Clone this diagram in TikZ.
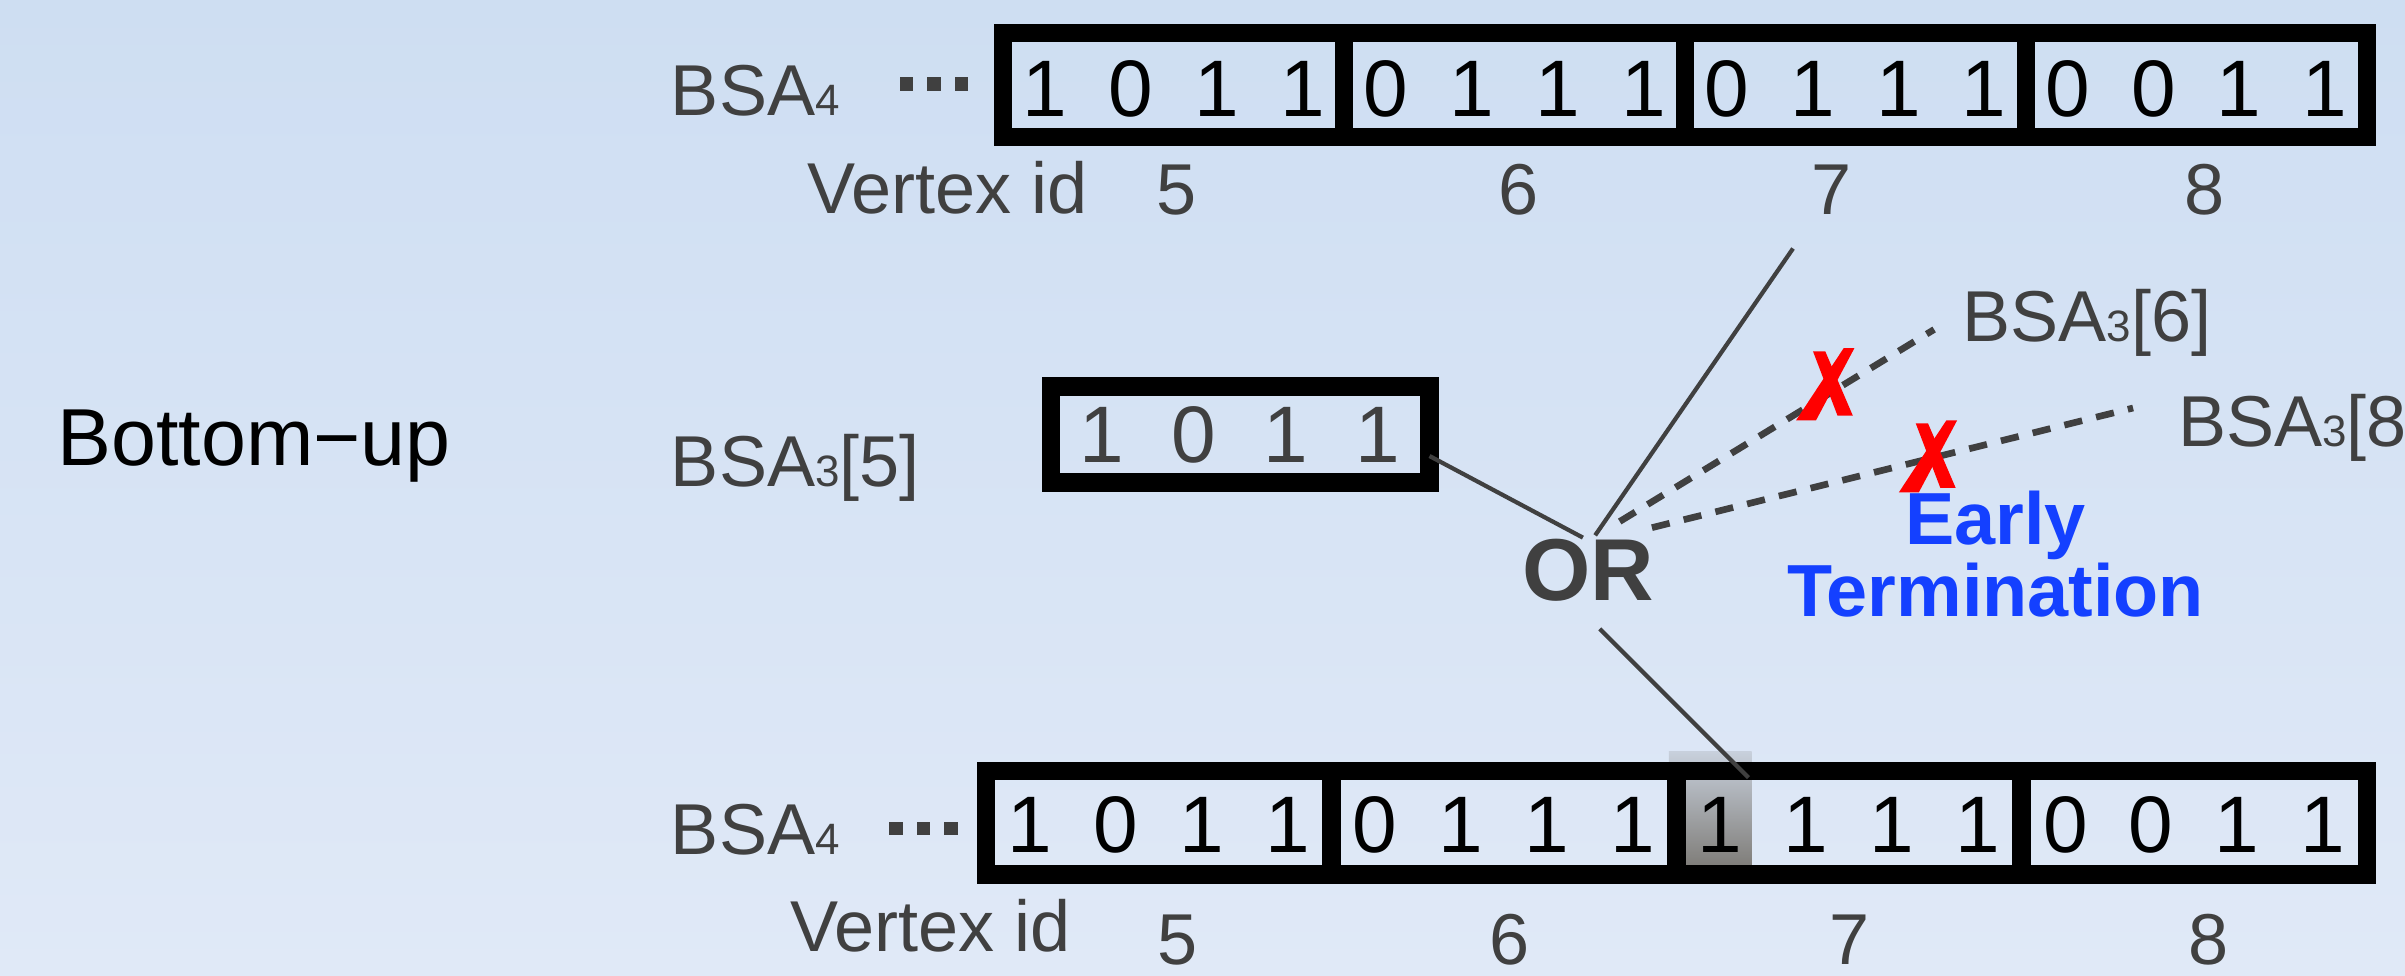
\documentclass[tikz,border=0pt]{standalone}
\usepackage{fontspec}
\setmainfont{Liberation Sans}
\usetikzlibrary{calc}
\definecolor{bgtop}{RGB}{206,222,242}
\definecolor{bgbot}{RGB}{224,233,247}
\definecolor{txtgray}{RGB}{64,64,64}
\definecolor{etblue}{RGB}{20,64,255}
\definecolor{hltop}{RGB}{200,208,220}
\definecolor{hlbot}{RGB}{128,126,122}
\newcommand{\bsasub}[1]{{\fontsize{12.5}{14}\selectfont #1}}
\tikzset{
  xmark/.pic={
    \fill[red] (-8,-22) -- (0,-22) -- (18,20) -- (8,20) -- cycle;
    \fill[red] (12,-24) -- (19,-24) -- (-6,23) -- (-19,23) -- cycle;
  },
}

\begin{document}
\begin{tikzpicture}[x=0.015338cm, y=-0.015338cm,
  lbl/.style={font=\fontsize{20.5}{24}\selectfont, text=txtgray, inner sep=0pt},
  cell/.style={draw=black, line width=5.2pt, outer sep=0pt, inner sep=0pt,
               minimum width=3.409cm, minimum height=1.035cm},
  bit/.style={font=\fontsize{22.8}{26}\selectfont, inner sep=0pt},
  dotsq/.style={fill=txtgray, minimum size=0.135cm, inner sep=0pt},
  wire/.style={draw=txtgray, line width=1.2pt},
  cutwire/.style={draw=txtgray, line width=1.9pt, dash pattern=on 5.2pt off 4.1pt},
]
\useasboundingbox (0,0) rectangle (1568,636);
\clip (0,0) rectangle (1568,636);
\fill[top color=bgtop, bottom color=bgbot] (0,0) rectangle (1568,636);

% mode
\node[font=\fontsize{23}{27}\selectfont, inner sep=0pt, anchor=base west] (mode) at (37,303.5) {Bottom−up};

% BSA4 (top)
\node[lbl, anchor=base west] (bsa4t) at (437,75) {BSA\bsasub{4}};
\foreach \x [count=\k] in {591,609,627}
  \node[dotsq] (dt\k) at (\x,54.6) {};
\foreach \b [count=\i] in {{1,0,1,1},{0,1,1,1},{0,1,1,1},{0,0,1,1}} {
  \node[cell] (t\i) at ({654+222.25*(\i-0.5)},55.4) {};
  \foreach \d [count=\j] in \b
    \node[bit] (t\i-\j) at ($(t\i)+({56*\j-140},2.5)$) {\d};
}
\node[lbl, anchor=base west] (vidt) at (526,139) {Vertex id};
\foreach \v/\x in {5/767,6/990,7/1194,8/1437}
  \node[lbl, anchor=base] (vt\v) at (\x,140) {\v};

% BSA3 inputs
\node[lbl, anchor=base west] (s5) at (437,317) {BSA\bsasub{3}[5]};
\node[cell, minimum width=3.788cm, minimum height=0.960cm] (m5) at (808.5,283.3) {};
\foreach \d [count=\j] in {1,0,1,1}
  \node[bit, text=txtgray] (m5-\j) at ($(m5)+({60*\j-150},0)$) {\d};
\node[lbl, anchor=base west] (s6) at (1279,222.8) {BSA\bsasub{3}[6]};
\node[lbl, anchor=base west] (s8) at (1419.7,291) {BSA\bsasub{3}[8]};

% OR
\node[font=\fontsize{25}{28}\selectfont\bfseries, text=txtgray, inner sep=0pt] (or) at (1035.5,371.5) {OR};
\node[font=\fontsize{21}{18}\selectfont\bfseries, text=etblue, align=center, inner sep=0pt,
      anchor=south] (et) at (1301,403) {Early\\Termination};

% BSA4 (bottom)
\node[lbl, anchor=base west] (bsa4b) at (437,557) {BSA\bsasub{4}};
\foreach \x [count=\k] in {584,602,620}
  \node[dotsq] (db\k) at (\x,540) {};
\fill[top color=hltop, bottom color=hlbot] (1088,490) rectangle (1142,564);
\foreach \b [count=\i] in {{1,0,1,1},{0,1,1,1},{1,1,1,1},{0,0,1,1}} {
  \node[cell, minimum width=3.451cm] (b\i) at ({643+225*(\i-0.5)},536.3) {};
  \foreach \d [count=\j] in \b
    \node[bit] (b\i-\j) at ($(b\i)+({56*\j-140},1.6)$) {\d};
}
\node[lbl, anchor=base west] (vidb) at (515,620.5) {Vertex id};
\foreach \v/\x in {5/768,6/984,7/1206,8/1440}
  \node[lbl, anchor=base] (vb\v) at (\x,629) {\v};

% connectors
\draw[wire] (m5.east) ++(0,14) -- ($(or)+(-3.5,-21)$);
\draw[wire] ($(or)+(4.5,-22.5)$) -- ($(vt7.base)+(-25,22)$);
\draw[wire] ($(or)+(7.5,38.5)$) -- ($(b3.north west)+(47,4.4)$);
\draw[cutwire] ($(or)+(20.5,-31.5)$) -- ($(s6.base west)+(-18,-8)$);
\draw[cutwire] ($(or)+(41.5,-27.5)$) -- ($(s8.base west)+(-29,-25)$);
\pic at (1190,251) {xmark};
\pic at (1257,298) {xmark};
\end{tikzpicture}
\end{document}
